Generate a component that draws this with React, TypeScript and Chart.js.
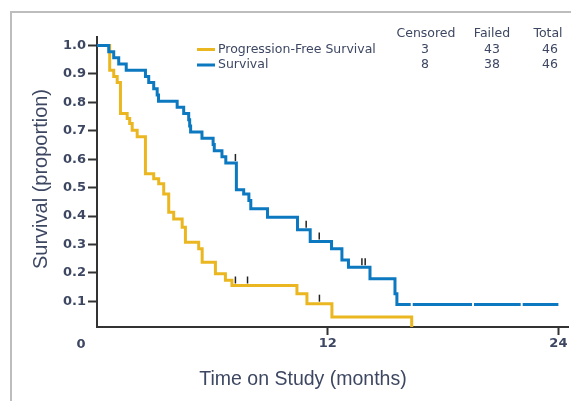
import React, { useEffect, useRef } from 'react';
import { Chart, registerables } from 'chart.js';

Chart.register(...registerables);

// Kaplan-Meier step curves: value takes effect at the given time (months)
const pfsTimes = [0, 0.66, 0.87, 1.05, 1.22, 1.57, 1.7, 1.83, 2.09, 2.52, 2.95, 3.21, 3.47, 3.73, 3.99, 4.43, 4.6, 5.29, 5.47, 6.16, 6.68, 7.02, 10.4, 10.92, 12.22, 16.37];
const pfsValues = [1.0, 0.913, 0.891, 0.87, 0.761, 0.743, 0.726, 0.702, 0.679, 0.549, 0.531, 0.514, 0.478, 0.414, 0.39, 0.361, 0.308, 0.285, 0.238, 0.197, 0.174, 0.156, 0.127, 0.092, 0.045, 0.0];
const pfsCensorTimes = [7.2, 7.83, 11.57];

const osTimes = [0, 0.61, 0.87, 1.13, 1.52, 2.52, 2.69, 2.95, 3.13, 3.2, 4.17, 4.51, 4.77, 4.82, 4.87, 5.46, 6.04, 6.1, 6.5, 6.7, 7.25, 7.63, 7.9, 8.0, 8.87, 10.43, 11.09, 12.2, 12.74, 13.08, 14.2, 15.5, 15.6, 24];
const osValues = [1.0, 0.978, 0.957, 0.935, 0.913, 0.891, 0.87, 0.848, 0.826, 0.804, 0.783, 0.761, 0.739, 0.717, 0.696, 0.674, 0.652, 0.63, 0.609, 0.587, 0.493, 0.478, 0.455, 0.426, 0.396, 0.352, 0.311, 0.285, 0.246, 0.22, 0.18, 0.127, 0.089, 0.089];
const osCensorTimes = [7.2, 10.88, 11.56, 13.78, 13.95];
const osTailCensorTimes = [16.37, 19.56, 22.09];

const xTickValues = [0, 12, 24];
const yTickValues = [0.1, 0.2, 0.3, 0.4, 0.5, 0.6, 0.7, 0.8, 0.9, 1.0];
const yTickLabels = ['0.1', '0.2', '0.3', '0.4', '0.5', '0.6', '0.7', '0.8', '0.9', '1.0'];

const seriesNames = ['Progression-Free Survival', 'Survival'];
const seriesColors = ['#EBB720', '#0B78C0'];
const tableHeaders = ['Censored', 'Failed', 'Total'];
const censoredCounts = [3, 8];
const failedCounts = [43, 38];
const totalCounts = [46, 46];

const xTitle = 'Time on Study (months)';
const yTitle = 'Survival (proportion)';

const TEXT = '#3d4762';
const AXIS = '#333333';

function stepValue(times: number[], values: number[], t: number) {
  let v = values[0];
  for (let i = 0; i < times.length; i++) {
    if (times[i] <= t) v = values[i];
  }
  return v;
}

const decorPlugin = {
  id: 'decor',
  beforeDraw(chart: any) {
    const ctx = chart.ctx;
    ctx.save();
    ctx.strokeStyle = '#bdbdbd';
    ctx.lineWidth = 2;
    ctx.beginPath();
    ctx.moveTo(11, 401);
    ctx.lineTo(11, 12);
    ctx.lineTo(571, 12);
    ctx.stroke();
    ctx.restore();
  },
  afterDatasetsDraw(chart: any) {
    const ctx = chart.ctx;
    const xs = chart.scales.x;
    const ys = chart.scales.y;
    ctx.save();
    // white gaps on the survival tail
    ctx.strokeStyle = '#ffffff';
    ctx.lineWidth = 2;
    osTailCensorTimes.forEach((t) => {
      const px = xs.getPixelForValue(t);
      const py = ys.getPixelForValue(stepValue(osTimes, osValues, t));
      ctx.beginPath();
      ctx.moveTo(px, py - 3);
      ctx.lineTo(px, py + 3);
      ctx.stroke();
    });
    // black censor ticks
    ctx.strokeStyle = '#222222';
    ctx.lineWidth = 1.5;
    const drawTick = (t: number, s: number) => {
      const px = xs.getPixelForValue(t);
      const py = ys.getPixelForValue(s);
      ctx.beginPath();
      ctx.moveTo(px, py - 2);
      ctx.lineTo(px, py - 9);
      ctx.stroke();
    };
    osCensorTimes.forEach((t) => drawTick(t, stepValue(osTimes, osValues, t)));
    pfsCensorTimes.forEach((t) => drawTick(t, stepValue(pfsTimes, pfsValues, t)));
    ctx.restore();
  },
  afterDraw(chart: any) {
    const ctx = chart.ctx;
    ctx.save();
    ctx.fillStyle = TEXT;
    // axis titles
    ctx.font = '19.5px "Liberation Sans", Arial, sans-serif';
    ctx.textAlign = 'center';
    ctx.textBaseline = 'middle';
    ctx.fillText(xTitle, 303, 380);
    ctx.save();
    ctx.translate(41, 179);
    ctx.rotate(-Math.PI / 2);
    ctx.font = '20px "Liberation Sans", Arial, sans-serif';
    ctx.fillText(yTitle, 0, 0);
    ctx.restore();
    // origin label
    ctx.font = 'bold 13px "DejaVu Sans", sans-serif';
    ctx.fillText('0', 81, 345);
    // legend table
    ctx.font = '12.5px "DejaVu Sans", sans-serif';
    const colX = [426, 492, 548];
    tableHeaders.forEach((h, i) => ctx.fillText(h, colX[i], 33.5));
    const rowY = [49.5, 65];
    seriesNames.forEach((name, r) => {
      ctx.strokeStyle = seriesColors[r];
      ctx.lineWidth = 3;
      ctx.beginPath();
      ctx.moveTo(197, rowY[r]);
      ctx.lineTo(215, rowY[r]);
      ctx.stroke();
      ctx.textAlign = 'left';
      ctx.fillText(name, 218, rowY[r]);
      ctx.textAlign = 'center';
      ctx.fillText(String(censoredCounts[r]), 425, rowY[r]);
      ctx.fillText(String(failedCounts[r]), 492, rowY[r]);
      ctx.fillText(String(totalCounts[r]), 550, rowY[r]);
    });
    ctx.restore();
  },
};

export default function App() {
  const canvasRef = useRef<HTMLCanvasElement | null>(null);

  useEffect(() => {
    const canvas = canvasRef.current;
    if (!canvas) return;
    const chart = new Chart(canvas, {
      type: 'line',
      data: {
        datasets: [
          {
            label: seriesNames[1],
            data: osTimes.map((t, i) => ({ x: t, y: osValues[i] })),
            borderColor: seriesColors[1],
            borderWidth: 3,
            stepped: 'before',
            pointRadius: 0,
            fill: false,
          },
          {
            label: seriesNames[0],
            data: pfsTimes.map((t, i) => ({ x: t, y: pfsValues[i] })),
            borderColor: seriesColors[0],
            borderWidth: 3,
            stepped: 'before',
            pointRadius: 0,
            fill: false,
          },
        ],
      },
      options: {
        animation: false,
        responsive: false,
        maintainAspectRatio: false,
        layout: { padding: { left: 0, right: 3, top: 37, bottom: 0 } },
        plugins: { legend: { display: false }, tooltip: { enabled: false } },
        scales: {
          x: {
            type: 'linear',
            min: 0,
            max: 24.5,
            afterBuildTicks: (scale: any) => {
              scale.ticks = xTickValues.map((v) => ({ value: v }));
            },
            afterFit: (scale: any) => {
              scale.height = 74;
            },
            ticks: {
              autoSkip: false,
              maxRotation: 0,
              padding: 1,
              color: TEXT,
              font: { family: '"DejaVu Sans", sans-serif', size: 13, weight: 'bold' },
              callback: (v: any) => (v === 0 ? '' : String(v)),
            },
            grid: {
              drawOnChartArea: false,
              drawTicks: true,
              tickLength: 8,
              tickWidth: 2,
              tickColor: (c: any) => (c.tick && c.tick.value === 0 ? 'rgba(0,0,0,0)' : AXIS),
            },
            border: { display: true, color: AXIS, width: 2 },
          },
          y: {
            type: 'linear',
            min: 0.01,
            max: 1.03,
            afterBuildTicks: (scale: any) => {
              scale.ticks = yTickValues.map((v) => ({ value: v }));
            },
            afterFit: (scale: any) => {
              scale.width = 97;
            },
            ticks: {
              autoSkip: false,
              padding: 2,
              color: TEXT,
              font: { family: '"DejaVu Sans", sans-serif', size: 13, weight: 'bold' },
              callback: (v: any) => {
                const i = yTickValues.findIndex((t) => Math.abs(t - v) < 1e-6);
                return i >= 0 ? yTickLabels[i] : '';
              },
            },
            grid: {
              drawOnChartArea: false,
              drawTicks: true,
              tickLength: 9,
              tickWidth: 2,
              tickColor: AXIS,
            },
            border: { display: true, color: AXIS, width: 2 },
          },
        },
      },
      plugins: [decorPlugin],
    } as any);
    return () => chart.destroy();
  }, []);

  return (
    <div style={{ position: 'fixed', left: 0, top: 0, width: 571, height: 401, background: '#fff' }}>
      <canvas ref={canvasRef} width={571} height={401} style={{ display: 'block', width: 571, height: 401 }} />
    </div>
  );
}
